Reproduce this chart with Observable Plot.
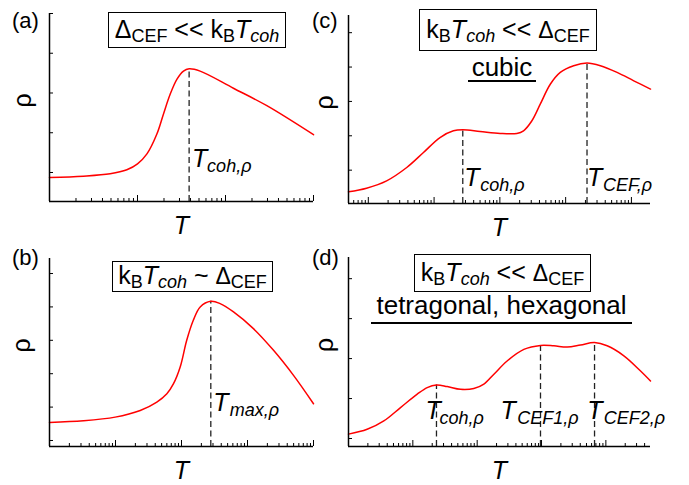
<!DOCTYPE html>
<html><head><meta charset="utf-8">
<script src="https://cdn.jsdelivr.net/npm/d3@7"></script>
<script src="https://cdn.jsdelivr.net/npm/@observablehq/plot@0.6"></script>
<style>
body{margin:0;background:#fff;}
#fig{position:relative;width:689px;height:485px;font-family:"Liberation Sans",Arial,sans-serif;color:#000;overflow:hidden;}
.panel{position:absolute;}
.lbl{position:absolute;font-size:22px;line-height:1;white-space:nowrap;}
.box{position:absolute;border:1.3px solid #000;box-sizing:border-box;display:flex;align-items:center;justify-content:center;font-size:25px;white-space:nowrap;line-height:1;}
.box > span{display:block;line-height:1;padding-bottom:2px;}
.box sub{font-size:18px;vertical-align:-4px;line-height:0;}
.box .d{font-size:23px;}
.box i{font-style:italic;}
.ul{position:absolute;font-size:26px;line-height:1;text-align:center;border-bottom:2px solid #000;white-space:nowrap;}
</style></head>
<body><div id="fig"></div>
<script>
// ---------------- data ----------------
// (a) Δ_CEF << k_B T_coh
const aT   = [1, 2.43, 4.89, 7.57, 10, 12.8, 16.6, 19.7, 23.5, 28.0, 33.3, 38.6, 51.5, 123, 295, 1000];
const aRho = [0.875, 0.908, 0.967, 1.067, 1.217, 1.467, 1.967, 2.467, 2.967, 3.342, 3.55, 3.608, 3.55, 3.12, 2.68, 1.95];
const aPeakT = [38.6], aPeakRho = [3.608], aSubs = ["coh,ρ"];
// (b) k_B T_coh ~ Δ_CEF
const bT   = [1, 3.27, 9.89, 23.7, 42.3, 60.0, 75.7, 95.5, 120, 151, 192, 278, 385, 614, 1230, 2480, 4980, 10000];
const bRho = [1.54, 1.59, 1.70, 1.90, 2.15, 2.40, 2.70, 3.20, 4.0, 4.6, 5.0, 5.17, 5.10, 4.85, 4.35, 3.70, 2.95, 2.10];
const bPeakT = [278], bPeakRho = [5.17], bSubs = ["max,ρ"];
// (c) k_B T_coh << Δ_CEF, cubic
const cT   = [0.5, 0.94, 1.9, 3.84, 6.9, 12.3, 19.7, 27.3, 50, 101, 181, 229, 307, 411, 584, 829, 1324, 2113, 3373, 6049, 10860, 19500];
const cRho = [0.37, 0.476, 0.69, 1.078, 1.515, 1.95, 2.146, 2.175, 2.126, 2.068, 2.068, 2.146, 2.437, 2.92, 3.5, 3.845, 4.04, 4.117, 4.04, 3.845, 3.60, 3.36];
const cPeakT = [27.3, 2113], cPeakRho = [2.175, 4.117], cSubs = ["coh,ρ", "CEF,ρ"];
// (d) k_B T_coh << Δ_CEF, tetragonal, hexagonal
const dT   = [1, 1.95, 3.54, 6.43, 11.7, 16.7, 23.3, 34.2, 55.1, 88.7, 127, 182, 292, 531, 964, 1556, 2506, 4036, 6668, 10470, 19050, 34600, 49400];
const dRho = [1.11, 1.23, 1.44, 1.775, 2.11, 2.275, 2.34, 2.30, 2.23, 2.25, 2.36, 2.61, 2.94, 3.23, 3.33, 3.32, 3.29, 3.34, 3.40, 3.32, 3.07, 2.69, 2.44];
const dPeakT = [23.3, 964, 6668], dPeakRho = [2.34, 3.33, 3.40], dSubs = ["coh,ρ", "CEF1,ρ", "CEF2,ρ"];

const panelLabels = ["(a)", "(b)", "(c)", "(d)"];
const boxTexts = [
  '<span>Δ<sub>CEF</sub> &lt;&lt; k<sub>B</sub><i>T<sub>coh</sub></i></span>',
  '<span>k<sub>B</sub><i>T<sub>coh</sub></i> ~ <span class="d">Δ</span><sub>CEF</sub></span>',
  '<span>k<sub>B</sub><i>T<sub>coh</sub></i> &lt;&lt; <span class="d">Δ</span><sub>CEF</sub></span>',
  '<span>k<sub>B</sub><i>T<sub>coh</sub></i> &lt;&lt; <span class="d">Δ</span><sub>CEF</sub></span>'
];
const structTexts = ["cubic", "tetragonal, hexagonal"];
const xLabel = "T", yLabel = "ρ";

// ---------------- layout ----------------
const FONT = '"Liberation Sans", Arial, sans-serif';
const fig = document.getElementById("fig");

function logTicks(domain) {
  const all = d3.scaleLog().domain(domain).ticks();
  const isMajor = v => Math.abs(Math.log10(v) - Math.round(Math.log10(v))) < 1e-6;
  return {major: all.filter(isMajor), minor: all.filter(v => !isMajor(v))};
}

function panel(cfg) {
  const {T, rho, peaksT, peaksRho, subs, labelRho, dxT, dxS, xDomain, yDomain, yTicks, pos, m} = cfg;
  const curve = T.map((t, i) => ({T: t, rho: rho[i]}));
  const peaks = peaksT.map((t, i) => ({T: t, rho: peaksRho[i], sub: subs[i]}));
  const innerW = pos.w - m.l - m.r, innerH = pos.h - m.t - m.b;
  const {major, minor} = logTicks(xDomain);
  const marks = [
    Plot.tickY(yTicks, {y: d => d, insetRight: innerW - 4, stroke: "#000", strokeWidth: 1}),
    Plot.tickX(major, {x: d => d, insetTop: innerH - 6, stroke: "#000", strokeWidth: 1}),
    Plot.tickX(minor, {x: d => d, insetTop: innerH - 3, stroke: "#000", strokeWidth: 1}),
    Plot.ruleX(peaks, {x: "T", y1: () => yDomain[0], y2: "rho", stroke: "#222", strokeWidth: 1.3, strokeDasharray: "6,3.5"}),
    Plot.line(curve, {x: "T", y: "rho", stroke: "#ff0000", strokeWidth: 1.5, curve: "catmull-rom"}),
    Plot.ruleX([xDomain[0]], {stroke: "#000", strokeWidth: 1.5}),
    Plot.ruleY([yDomain[0]], {stroke: "#000", strokeWidth: 1.5}),
    Plot.text([xLabel], {text: d => d, frameAnchor: "bottom", dy: 32, lineAnchor: "bottom", fontSize: 25, fontStyle: "italic", fill: "#000", fontFamily: FONT}),
    Plot.text([yLabel], {text: d => d, frameAnchor: "left", dx: cfg.yLabelDx, rotate: -90, fontSize: 25, fill: "#000", fontFamily: FONT})
  ];
  peaks.forEach((p, i) => {
    marks.push(Plot.text([p], {x: "T", y: () => labelRho, text: () => "T", dx: dxT[i], textAnchor: "start", lineAnchor: "bottom", fontSize: 25, fontStyle: "italic", fill: "#000", fontFamily: FONT}));
    marks.push(Plot.text([p], {x: "T", y: () => labelRho, text: "sub", dx: dxS[i], dy: 5, textAnchor: "start", lineAnchor: "bottom", fontSize: 18, fontStyle: "italic", fill: "#000", fontFamily: FONT}));
  });
  const svg = Plot.plot({
    width: pos.w, height: pos.h,
    marginLeft: m.l, marginRight: m.r, marginTop: m.t, marginBottom: m.b,
    x: {type: "log", domain: xDomain, axis: null},
    y: {type: "linear", domain: yDomain, axis: null},
    style: {background: "transparent", overflow: "visible", fontFamily: FONT},
    marks
  });
  const wrap = document.createElement("div");
  wrap.className = "panel";
  wrap.style.left = pos.x + "px"; wrap.style.top = pos.y + "px"; wrap.style.width = pos.w + "px"; wrap.style.height = pos.h + "px";
  wrap.appendChild(svg);
  fig.appendChild(wrap);
}

panel({T: aT, rho: aRho, peaksT: aPeakT, peaksRho: aPeakRho, subs: aSubs, labelRho: 1.13, dxT: [3], dxS: [18],
  xDomain: [1, 1000], yDomain: [0.27, 5.0], yTicks: [1, 2, 3, 4, 5], yLabelDx: -27,
  pos: {x: 0, y: 0, w: 340, h: 242}, m: {l: 49, t: 13, r: 27, b: 41}});
panel({T: bT, rho: bRho, peaksT: bPeakT, peaksRho: bPeakRho, subs: bSubs, labelRho: 1.87, dxT: [2.5], dxS: [19],
  xDomain: [1, 10000], yDomain: [0.82, 6.45], yTicks: [1, 2, 3, 4, 5, 6], yLabelDx: -27.5,
  pos: {x: 0, y: 242, w: 340, h: 243}, m: {l: 49, t: 16, r: 27, b: 39}});
panel({T: cT, rho: cRho, peaksT: cPeakT, peaksRho: cPeakRho, subs: cSubs, labelRho: 0.54, dxT: [1.5, 0], dxS: [17.5, 16],
  xDomain: [0.5, 19500], yDomain: [0.03, 5.5], yTicks: [1, 2, 3, 4, 5], yLabelDx: -24,
  pos: {x: 300, y: 0, w: 389, h: 242}, m: {l: 48, t: 15, r: 39, b: 39}});
panel({T: dT, rho: dRho, peaksT: dPeakT, peaksRho: dPeakRho, subs: dSubs, labelRho: 1.5, dxT: [-11, -40, -7.3], dxS: [3, -23.3, 9.3],
  xDomain: [1, 49400], yDomain: [0.8, 5.53], yTicks: [1, 2, 3, 4, 5], yLabelDx: -24,
  pos: {x: 300, y: 242, w: 389, h: 243}, m: {l: 48, t: 15, r: 39, b: 39}});

// overlays: panel letters, condition boxes, structure labels
const letterPos = [[12, 10], [12, 247], [312, 10], [312, 247]];
panelLabels.forEach((t, i) => {
  const el = document.createElement("div");
  el.className = "lbl"; el.textContent = t;
  el.style.left = letterPos[i][0] + "px"; el.style.top = letterPos[i][1] + "px";
  fig.appendChild(el);
});
const boxPos = [[108, 12, 178, 36], [112, 261, 161, 31], [419, 9, 178, 42], [414, 254, 177, 38]];
boxTexts.forEach((t, i) => {
  const el = document.createElement("div");
  el.className = "box"; el.innerHTML = t;
  const [x, y, w, h] = boxPos[i];
  Object.assign(el.style, {left: x + "px", top: y + "px", width: w + "px", height: h + "px"});
  fig.appendChild(el);
});
const structPos = [[468, 54, 68, 0], [371, 292, 261, 4]];
structTexts.forEach((t, i) => {
  const el = document.createElement("div");
  el.className = "ul"; el.textContent = t;
  const [x, y, w, pb] = structPos[i];
  Object.assign(el.style, {left: x + "px", top: y + "px", width: w + "px", paddingBottom: pb + "px"});
  fig.appendChild(el);
});
</script>
</body></html>
